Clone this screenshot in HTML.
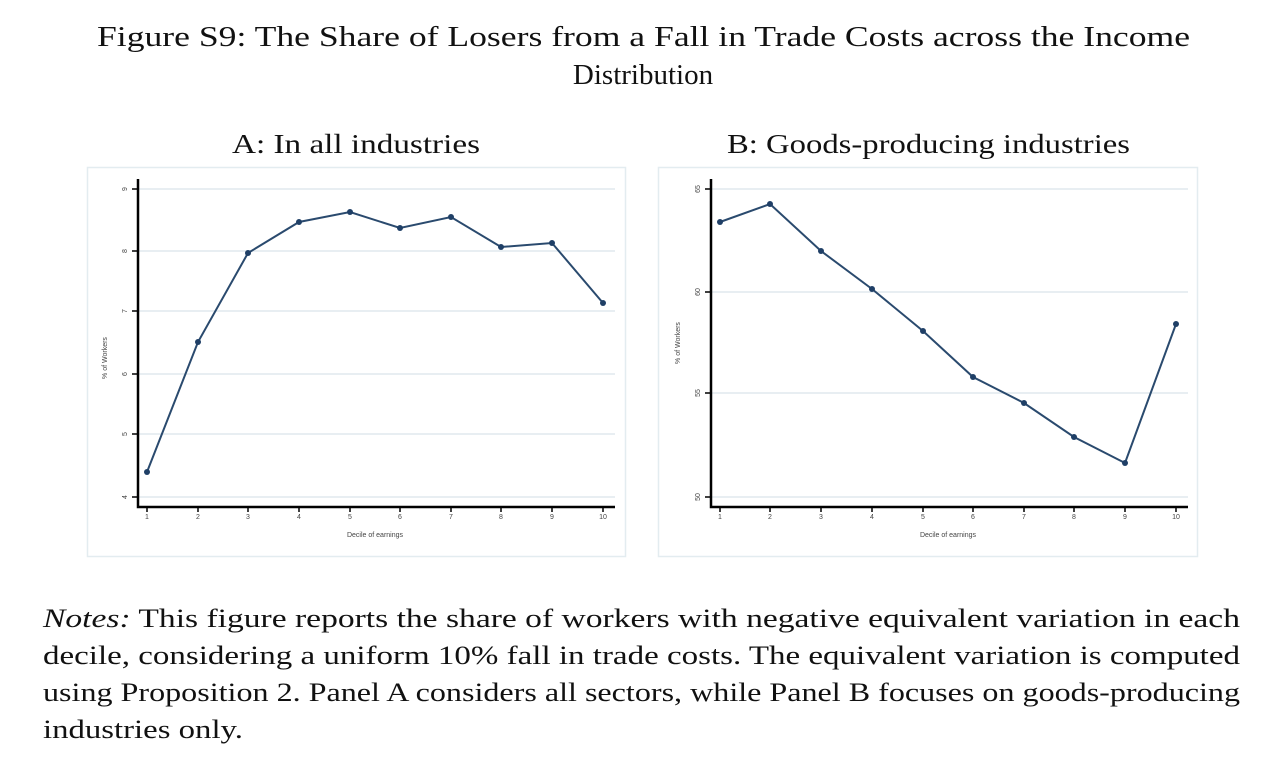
<!DOCTYPE html>
<html><head><meta charset="utf-8"><style>
html,body{margin:0;padding:0;background:#fff;width:1286px;height:777px;overflow:hidden}
svg{display:block}
</style></head><body>
<svg width="1286" height="777" xmlns="http://www.w3.org/2000/svg" font-family="Liberation Serif, serif" fill="#111">
<text x="97" y="46" font-size="29" textLength="1093" lengthAdjust="spacingAndGlyphs">Figure S9: The Share of Losers from a Fall in Trade Costs across the Income</text>
<text x="643" y="84" font-size="29" text-anchor="middle">Distribution</text>
<text x="232" y="153" font-size="27" textLength="248" lengthAdjust="spacingAndGlyphs">A: In all industries</text>
<text x="727" y="153" font-size="27" textLength="403" lengthAdjust="spacingAndGlyphs">B: Goods-producing industries</text>

<!-- Panel A -->
<rect x="87.5" y="167.5" width="538" height="389" fill="#fff" stroke="#e3ecf0" stroke-width="1.5"/>
<g stroke="#e8eef2" stroke-width="2">
<line x1="139" x2="615" y1="189" y2="189"/><line x1="139" x2="615" y1="251" y2="251"/>
<line x1="139" x2="615" y1="311" y2="311"/><line x1="139" x2="615" y1="374" y2="374"/>
<line x1="139" x2="615" y1="434" y2="434"/><line x1="139" x2="615" y1="497" y2="497"/>
</g>
<g stroke="#000" stroke-width="2.5" fill="none">
<polyline points="138,179 138,507 615,507"/>
</g>
<g stroke="#000" stroke-width="1.5">
<line x1="132" x2="138" y1="189" y2="189"/><line x1="132" x2="138" y1="251" y2="251"/><line x1="132" x2="138" y1="311" y2="311"/><line x1="132" x2="138" y1="374" y2="374"/><line x1="132" x2="138" y1="434" y2="434"/><line x1="132" x2="138" y1="497" y2="497"/>
<line x1="147" x2="147" y1="507" y2="512"/><line x1="198" x2="198" y1="507" y2="512"/><line x1="248" x2="248" y1="507" y2="512"/><line x1="299" x2="299" y1="507" y2="512"/><line x1="350" x2="350" y1="507" y2="512"/><line x1="400" x2="400" y1="507" y2="512"/><line x1="451" x2="451" y1="507" y2="512"/><line x1="501" x2="501" y1="507" y2="512"/><line x1="552" x2="552" y1="507" y2="512"/><line x1="603" x2="603" y1="507" y2="512"/>
</g>
<g font-family="Liberation Sans, sans-serif" font-size="7" fill="#444" text-anchor="middle">
<text x="125" y="191" transform="rotate(-90 125 189)">9</text>
<text x="125" y="253" transform="rotate(-90 125 251)">8</text>
<text x="125" y="313" transform="rotate(-90 125 311)">7</text>
<text x="125" y="376" transform="rotate(-90 125 374)">6</text>
<text x="125" y="436" transform="rotate(-90 125 434)">5</text>
<text x="125" y="499" transform="rotate(-90 125 497)">4</text>
<text x="107" y="358" transform="rotate(-90 107 358)">% of Workers</text>
<text x="147" y="519">1</text><text x="198" y="519">2</text><text x="248" y="519">3</text><text x="299" y="519">4</text><text x="350" y="519">5</text><text x="400" y="519">6</text><text x="451" y="519">7</text><text x="501" y="519">8</text><text x="552" y="519">9</text><text x="603" y="519">10</text>
<text x="375" y="537">Decile of earnings</text>
</g>
<polyline fill="none" stroke="#2a4a6e" stroke-width="2" points="147,472 198,342 248,253 299,222 350,212 400,228 451,217 501,247 552,243 603,303"/>
<g fill="#1f3f66">
<circle cx="147" cy="472" r="3"/><circle cx="198" cy="342" r="3"/><circle cx="248" cy="253" r="3"/><circle cx="299" cy="222" r="3"/><circle cx="350" cy="212" r="3"/><circle cx="400" cy="228" r="3"/><circle cx="451" cy="217" r="3"/><circle cx="501" cy="247" r="3"/><circle cx="552" cy="243" r="3"/><circle cx="603" cy="303" r="3"/>
</g>

<!-- Panel B -->
<rect x="658.5" y="167.5" width="539" height="389" fill="#fff" stroke="#e3ecf0" stroke-width="1.5"/>
<g stroke="#e8eef2" stroke-width="2">
<line x1="712" x2="1188" y1="189" y2="189"/><line x1="712" x2="1188" y1="292" y2="292"/>
<line x1="712" x2="1188" y1="393" y2="393"/><line x1="712" x2="1188" y1="497" y2="497"/>
</g>
<g stroke="#000" stroke-width="2.5" fill="none">
<polyline points="711,179 711,507 1188,507"/>
</g>
<g stroke="#000" stroke-width="1.5">
<line x1="705" x2="711" y1="189" y2="189"/><line x1="705" x2="711" y1="292" y2="292"/><line x1="705" x2="711" y1="393" y2="393"/><line x1="705" x2="711" y1="497" y2="497"/>
<line x1="720" x2="720" y1="507" y2="512"/><line x1="770" x2="770" y1="507" y2="512"/><line x1="821" x2="821" y1="507" y2="512"/><line x1="872" x2="872" y1="507" y2="512"/><line x1="923" x2="923" y1="507" y2="512"/><line x1="973" x2="973" y1="507" y2="512"/><line x1="1024" x2="1024" y1="507" y2="512"/><line x1="1074" x2="1074" y1="507" y2="512"/><line x1="1125" x2="1125" y1="507" y2="512"/><line x1="1176" x2="1176" y1="507" y2="512"/>
</g>
<g font-family="Liberation Sans, sans-serif" font-size="7" fill="#444" text-anchor="middle">
<text x="698" y="191" transform="rotate(-90 698 189)">65</text>
<text x="698" y="294" transform="rotate(-90 698 292)">60</text>
<text x="698" y="395" transform="rotate(-90 698 393)">55</text>
<text x="698" y="499" transform="rotate(-90 698 497)">50</text>
<text x="680" y="343" transform="rotate(-90 680 343)">% of Workers</text>
<text x="720" y="519">1</text><text x="770" y="519">2</text><text x="821" y="519">3</text><text x="872" y="519">4</text><text x="923" y="519">5</text><text x="973" y="519">6</text><text x="1024" y="519">7</text><text x="1074" y="519">8</text><text x="1125" y="519">9</text><text x="1176" y="519">10</text>
<text x="948" y="537">Decile of earnings</text>
</g>
<polyline fill="none" stroke="#2a4a6e" stroke-width="2" points="720,222 770,204 821,251 872,289 923,331 973,377 1024,403 1074,437 1125,463 1176,324"/>
<g fill="#1f3f66">
<circle cx="720" cy="222" r="3"/><circle cx="770" cy="204" r="3"/><circle cx="821" cy="251" r="3"/><circle cx="872" cy="289" r="3"/><circle cx="923" cy="331" r="3"/><circle cx="973" cy="377" r="3"/><circle cx="1024" cy="403" r="3"/><circle cx="1074" cy="437" r="3"/><circle cx="1125" cy="463" r="3"/><circle cx="1176" cy="324" r="3"/>
</g>

<!-- Notes -->
<g font-size="26">
<text x="43" y="627" textLength="1197" lengthAdjust="spacingAndGlyphs"><tspan font-style="italic">Notes:</tspan> This figure reports the share of workers with negative equivalent variation in each</text>
<text x="43" y="664" textLength="1197" lengthAdjust="spacingAndGlyphs">decile, considering a uniform 10% fall in trade costs. The equivalent variation is computed</text>
<text x="43" y="701" textLength="1197" lengthAdjust="spacingAndGlyphs">using Proposition 2. Panel A considers all sectors, while Panel B focuses on goods-producing</text>
<text x="43" y="738" textLength="200" lengthAdjust="spacingAndGlyphs">industries only.</text>
</g>
</svg>
</body></html>
